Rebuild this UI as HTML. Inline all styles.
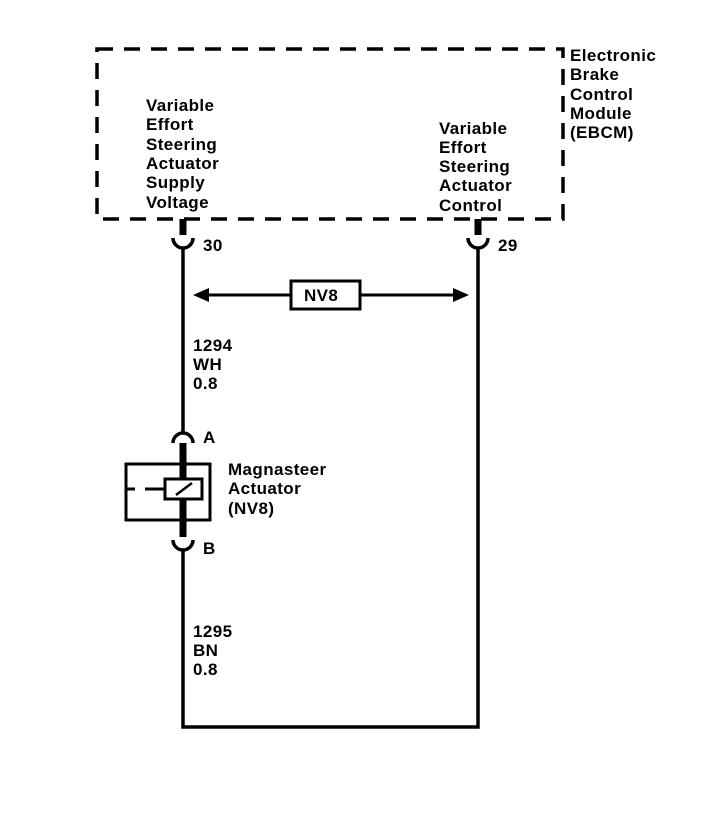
<!DOCTYPE html>
<html><head><style>
html,body{margin:0;padding:0;background:#fff}
svg{display:block}
text{font-family:"Liberation Sans",sans-serif;font-size:17px;font-weight:bold;letter-spacing:0.4px;fill:#000}
</style></head><body>
<svg width="726" height="816" viewBox="0 0 726 816" xmlns="http://www.w3.org/2000/svg">
<rect x="97" y="49" width="466" height="170" fill="none" stroke="#000" stroke-width="3.5" stroke-dasharray="16 11"/>
<text x="570" y="61">Electronic</text>
<text x="570" y="80">Brake</text>
<text x="570" y="100">Control</text>
<text x="570" y="119">Module</text>
<text x="570" y="138">(EBCM)</text>
<g>
<text x="146" y="111">Variable</text>
<text x="146" y="130">Effort</text>
<text x="146" y="150">Steering</text>
<text x="146" y="169">Actuator</text>
<text x="146" y="188">Supply</text>
<text x="146" y="208">Voltage</text>
</g>
<g>
<text x="439" y="134">Variable</text>
<text x="439" y="153">Effort</text>
<text x="439" y="172">Steering</text>
<text x="439" y="191">Actuator</text>
<text x="439" y="211">Control</text>
</g>
<g fill="none" stroke="#000">
<line x1="183" y1="219" x2="183" y2="235" stroke-width="7"/>
<path d="M173 238 A10 10 0 0 0 193 238" stroke-width="3.5"/>
<line x1="478" y1="219" x2="478" y2="235" stroke-width="7"/>
<path d="M468 238 A10 10 0 0 0 488 238" stroke-width="3.5"/>
<path d="M183 248 V727 H478 V248" stroke-width="3.5"/>
<line x1="200" y1="295" x2="290" y2="295" stroke-width="3"/>
<line x1="360" y1="295" x2="460" y2="295" stroke-width="3"/>
<rect x="291" y="281" width="69" height="28" stroke-width="3"/>
</g>
<polygon points="193,295 209,288 209,302" fill="#000"/>
<polygon points="469,295 453,288 453,302" fill="#000"/>
<text x="304" y="301">NV8</text>
<text x="203" y="251">30</text>
<text x="498" y="251">29</text>
<text x="193" y="351">1294</text>
<text x="193" y="370">WH</text>
<text x="193" y="389">0.8</text>
<text x="193" y="637">1295</text>
<text x="193" y="656">BN</text>
<text x="193" y="675">0.8</text>
<rect x="110" y="433" width="100" height="117" fill="#fff"/>
<g fill="none" stroke="#000">
<path d="M173 443 A10 10 0 0 1 193 443" stroke-width="3.5"/>
<line x1="183" y1="443" x2="183" y2="479" stroke-width="7"/>
<line x1="183" y1="500" x2="183" y2="537" stroke-width="7"/>
<path d="M173 540 A10 10 0 0 0 193 540" stroke-width="3.5"/>
<rect x="126" y="464" width="84" height="56" stroke-width="3"/>
<rect x="165" y="479" width="37" height="20" stroke-width="3"/>
<line x1="126" y1="489" x2="135" y2="489" stroke-width="3"/>
<line x1="145" y1="489" x2="165" y2="489" stroke-width="3"/>
<line x1="176" y1="495" x2="192" y2="483" stroke-width="2.5"/>
</g>
<text x="203" y="443">A</text>
<text x="203" y="554">B</text>
<text x="228" y="475">Magnasteer</text>
<text x="228" y="494">Actuator</text>
<text x="228" y="514">(NV8)</text>
</svg>
</body></html>
